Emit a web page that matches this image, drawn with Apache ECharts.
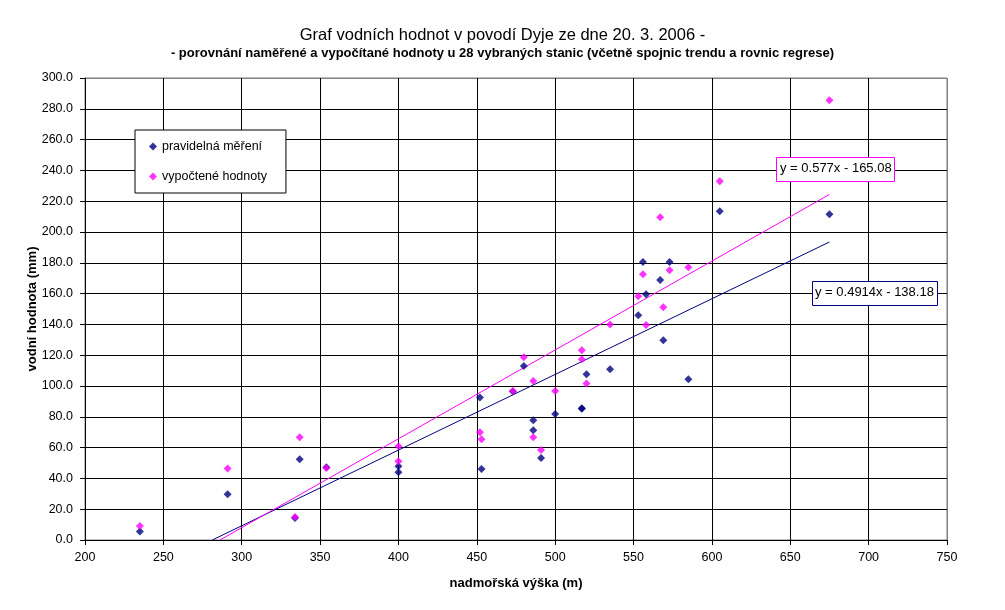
<!DOCTYPE html>
<html>
<head>
<meta charset="utf-8">
<script src="https://cdn.jsdelivr.net/npm/echarts@6/dist/echarts.min.js"></script>
<style>html,body{margin:0;padding:0;background:#fff;}#c{width:1005px;height:610px;}</style>
</head>
<body>
<div id="c"></div>
<script>
const altitudes = [235, 291, 334, 337, 354, 400, 400, 452, 453, 473, 480, 486, 486, 491, 500, 517, 517, 520, 535, 553, 556, 558, 567, 569, 573, 585, 605, 675];
const measured = [5.6, 29.7, 14.3, 52.4, 47.2, 47.9, 44.0, 92.6, 46.1, 96.5, 113.0, 77.7, 71.2, 53.2, 81.8, 85.3, 85.6, 107.6, 110.8, 145.9, 180.5, 159.5, 168.8, 129.7, 180.5, 104.4, 213.4, 211.5];
const computed = [9.1, 46.5, 15.0, 66.7, 46.8, 60.8, 51.1, 69.9, 65.4, 96.8, 118.6, 103.2, 66.7, 58.4, 96.8, 123.2, 117.3, 101.7, 140.0, 158.2, 172.5, 139.6, 209.5, 151.1, 175.1, 177.1, 232.9, 285.5];
const seriesNames = ['pravidelná měření', 'vypočtené hodnoty'];
const trendMeasured = [0.4914, -138.18];
const trendComputed = [0.577, -165.08];

const NAVY = '#000080', PINK = '#FF00FF';
const FONT = 'Liberation Sans, Arial, sans-serif';

function trend(coef) {
  const [a, b] = coef;
  const x0 = Math.max(Math.min(...altitudes), -b / a);
  const x1 = Math.max(...altitudes);
  return [[x0, a * x0 + b], [x1, a * x1 + b]];
}
function eqText(coef) {
  return 'y = ' + coef[0] + 'x - ' + Math.abs(coef[1]).toFixed(2);
}

const chart = echarts.init(document.getElementById('c'), null, {renderer: 'canvas'});
const xSplitColors = Array.from({length: 12}, (_, i) => i === 11 ? '#808080' : '#000');
const ySplitColors = Array.from({length: 16}, (_, i) => i === 15 ? '#808080' : '#000');

chart.setOption({
  animation: false,
  backgroundColor: '#fff',
  title: {
    text: 'Graf vodních hodnot v povodí Dyje ze dne 20. 3. 2006 -',
    subtext: '- porovnání naměřené a vypočítané hodnoty u 28 vybraných stanic (včetně spojnic trendu a rovnic regrese)',
    left: 'center', top: 22, itemGap: 3,
    textStyle: {fontFamily: FONT, fontSize: 16.5, fontWeight: 'normal', color: '#000'},
    subtextStyle: {fontFamily: FONT, fontSize: 13, fontWeight: 'bold', color: '#000'}
  },
  grid: {left: 85, right: 58, top: 78, bottom: 70, show: true, borderColor: '#808080', borderWidth: 1, backgroundColor: '#fff'},
  legend: {
    orient: 'vertical', left: 135, top: 130,
    data: seriesNames,
    icon: 'diamond', itemWidth: 8, itemHeight: 8, itemGap: 17,
    padding: [10, 19, 10, 14],
    backgroundColor: '#fff', borderColor: '#000', borderWidth: 1,
    textStyle: {fontFamily: FONT, fontSize: 12.5, color: '#000'}
  },
  xAxis: {
    type: 'value', min: 200, max: 750, interval: 50,
    name: 'nadmořská výška (m)', nameLocation: 'middle', nameGap: 37,
    nameTextStyle: {fontFamily: FONT, fontSize: 13, fontWeight: 'bold', color: '#000'},
    axisLine: {show: true, onZero: false, lineStyle: {color: '#000'}},
    axisTick: {show: true, length: 5, lineStyle: {color: '#000'}},
    axisLabel: {fontFamily: FONT, fontSize: 12.5, color: '#000', margin: 11},
    splitLine: {show: true, lineStyle: {color: xSplitColors, width: 1}}
  },
  yAxis: {
    type: 'value', min: 0, max: 300, interval: 20,
    name: 'vodní hodnota (mm)', nameLocation: 'middle', nameGap: 46, nameMoveOverlap: false,
    nameTextStyle: {fontFamily: FONT, fontSize: 13, fontWeight: 'bold', color: '#000'},
    axisLine: {show: true, onZero: false, lineStyle: {color: '#000'}},
    axisTick: {show: true, length: 5, lineStyle: {color: '#000'}},
    axisLabel: {fontFamily: FONT, fontSize: 12.5, color: '#000', margin: 12, formatter: v => v.toFixed(1)},
    splitLine: {show: true, lineStyle: {color: ySplitColors, width: 1}}
  },
  series: [
    {name: seriesNames[0], type: 'scatter', symbol: 'diamond', symbolSize: 8,
     itemStyle: {color: NAVY}, data: altitudes.map((x, i) => [x, measured[i]]), z: 3},
    {name: seriesNames[1], type: 'scatter', symbol: 'diamond', symbolSize: 8,
     itemStyle: {color: PINK}, data: altitudes.map((x, i) => [x, computed[i]]), z: 4},
    {name: 'trend1', type: 'line', data: trend(trendMeasured), symbol: 'none',
     lineStyle: {color: NAVY, width: 1}, z: 2, silent: true},
    {name: 'trend2', type: 'line', data: trend(trendComputed), symbol: 'none',
     lineStyle: {color: PINK, width: 1}, z: 2, silent: true}
  ],
  graphic: [
    {type: 'rect', left: 776, top: 157, shape: {width: 118, height: 24},
     style: {fill: '#fff', stroke: PINK, lineWidth: 1}, z: 10},
    {type: 'text', left: 780, top: 162, z: 11,
     style: {text: eqText(trendComputed), fill: '#000', font: '13px ' + FONT}},
    {type: 'rect', left: 812, top: 281, shape: {width: 125, height: 24},
     style: {fill: '#fff', stroke: NAVY, lineWidth: 1}, z: 10},
    {type: 'text', left: 815, top: 286, z: 11,
     style: {text: eqText(trendMeasured), fill: '#000', font: '13px ' + FONT}}
  ]
});
</script>
</body>
</html>
